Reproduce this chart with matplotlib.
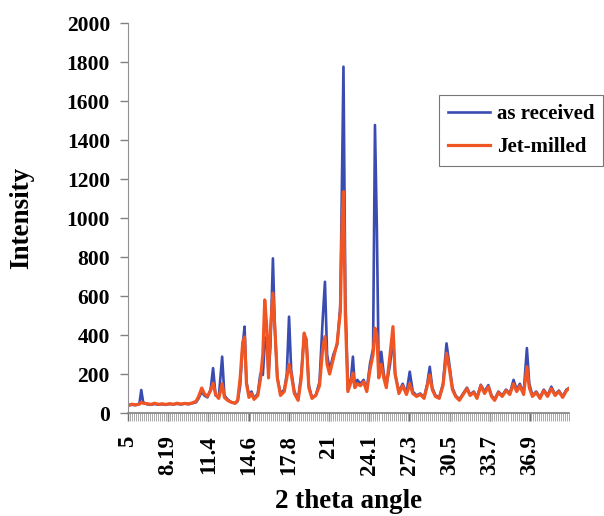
import matplotlib
matplotlib.use("Agg")
import matplotlib.pyplot as plt
from matplotlib.ticker import MultipleLocator

theta = [5.0, 5.3, 5.6, 5.9, 6.05, 6.2, 6.5, 6.8, 7.1, 7.4, 7.7, 8.0, 8.3, 8.6, 8.9, 9.2, 9.5, 9.8,
         10.1, 10.4, 10.6, 10.85, 11.05, 11.3, 11.55, 11.75, 11.95, 12.2, 12.47, 12.65, 12.9, 13.2,
         13.5, 13.7, 13.9, 14.1, 14.25, 14.4, 14.6, 14.8, 15.0, 15.3, 15.5, 15.7, 15.85, 16.0, 16.15,
         16.3, 16.5, 16.65, 16.85, 17.1, 17.4, 17.6, 17.78, 17.95, 18.2, 18.5, 18.75, 18.98, 19.15,
         19.35, 19.6, 19.9, 20.2, 20.45, 20.63, 20.8, 21.0, 21.3, 21.6, 21.85, 22.0, 22.1, 22.25,
         22.45, 22.7, 22.85, 23.0, 23.2, 23.45, 23.7, 23.95, 24.2, 24.45, 24.6, 24.75, 24.9, 25.1,
         25.3, 25.5, 25.8, 26.03, 26.2, 26.5, 26.8, 27.1, 27.36, 27.6, 27.9, 28.2, 28.5, 28.75,
         28.95, 29.15, 29.4, 29.7, 30.0, 30.28, 30.5, 30.75, 31.0, 31.3, 31.6, 31.9, 32.15, 32.45,
         32.7, 33.0, 33.3, 33.6, 33.85, 34.1, 34.4, 34.7, 35.0, 35.3, 35.6, 35.85, 36.1, 36.4,
         36.66, 36.85, 37.1, 37.4, 37.7, 38.0, 38.3, 38.6, 38.9, 39.2, 39.5, 39.8, 40.0]

as_received = [40, 42, 40, 48, 118, 55, 45, 42, 46, 43, 45, 42, 46, 44, 47, 44, 48, 45,
               50, 55, 75, 110, 90, 80, 120, 230, 90, 80, 289, 90, 70, 55,
               50, 60, 140, 350, 443, 160, 90, 110, 75, 100, 200, 195, 350, 390, 200,
               340, 793, 440, 180, 100, 120, 200, 494, 220, 110, 70, 200, 400, 380,
               140, 80, 90, 160, 480, 673, 300, 220, 300, 350, 550, 1300, 1776, 600,
               120, 180, 289, 140, 170, 150, 170, 120, 250, 330, 1477, 950, 200, 314,
               200, 140, 250, 391, 200, 110, 150, 100, 212, 110, 90, 100, 80, 150,
               237, 130, 90, 80, 150, 357, 250, 130, 90, 70, 100, 130, 95, 110,
               80, 145, 110, 143, 90, 70, 110, 90, 120, 100, 170, 120, 150, 100,
               333, 150, 90, 110, 80, 120, 90, 135, 95, 115, 85, 120, 128]

jet_milled = [38, 45, 42, 45, 55, 50, 48, 44, 50, 45, 47, 44, 48, 45, 50, 46, 49, 47,
              52, 60, 85, 128, 100, 85, 115, 153, 95, 75, 150, 80, 65, 55,
              50, 65, 180, 360, 390, 150, 80, 100, 70, 90, 170, 300, 580, 450, 180,
              420, 615, 440, 180, 90, 110, 180, 250, 200, 100, 65, 180, 410, 370,
              130, 75, 90, 140, 330, 392, 250, 200, 280, 360, 520, 1000, 1135, 500,
              110, 160, 205, 130, 150, 140, 160, 110, 220, 300, 435, 400, 180, 250,
              180, 130, 300, 443, 200, 100, 140, 95, 150, 100, 85, 95, 75, 140,
              195, 120, 85, 75, 140, 307, 230, 120, 85, 65, 95, 125, 90, 105,
              75, 140, 100, 135, 85, 65, 105, 85, 115, 95, 150, 110, 140, 95,
              237, 130, 85, 105, 75, 115, 85, 125, 90, 110, 80, 115, 125]

tick_vals = [5, 8.19, 11.38, 14.57, 17.76, 20.95, 24.14, 27.33, 30.52, 33.71, 36.9]
tick_labels = ["5", "8.19", "11.4", "14.6", "17.8", "21", "24.1", "27.3", "30.5", "33.7", "36.9"]
y_ticks = list(range(0, 2001, 200))

plt.rcParams['font.family'] = ['Liberation Serif', 'DejaVu Serif']
plt.rcParams['font.weight'] = 'bold'

fig = plt.figure(figsize=(6.04, 5.16), dpi=100)
ax = fig.add_axes([0.212, 0.1996, 0.730, 0.7558])

ax.plot(theta, as_received, color='#3A4CB0', lw=1.9, label='as received')
ax.plot(theta, jet_milled, color='#F05524', lw=2.3, label='Jet-milled')

ax.set_xlim(5, 40)
ax.set_ylim(0, 2000)
ax.set_yticks(y_ticks)
ax.set_yticklabels([str(v) for v in y_ticks], fontsize=15.5, fontweight='bold')
ax.set_xticks(tick_vals)
ax.set_xticklabels(tick_labels, rotation=90, fontsize=16.5, fontweight='bold')
ax.xaxis.set_minor_locator(MultipleLocator(0.16))
ax.tick_params(axis='x', which='major', length=6, width=1.0, color='#707070', pad=10)
ax.tick_params(axis='x', which='minor', length=6, width=0.6, color='#9a9a9a')
ax.tick_params(axis='y', which='major', length=6, width=1.0, color='#808080', pad=7)

for s in ['top', 'right']:
    ax.spines[s].set_visible(False)
ax.spines['left'].set_color('#909090')
ax.spines['bottom'].set_color('#808080')
ax.spines['bottom'].set_linewidth(1.2)

ax.set_ylabel('Intensity', fontsize=19.5, fontweight='bold')
ax.yaxis.set_label_coords(-0.214, 0.5)
ax.set_xlabel('2 theta angle', fontsize=19.5, fontweight='bold')
ax.xaxis.set_label_coords(0.5, -0.194)

leg = ax.legend(loc='upper right', bbox_to_anchor=(1.077, 0.815), fontsize=15, frameon=True,
                fancybox=False, edgecolor='#555555', handlelength=2.0, borderpad=0.42,
                labelspacing=0.62, handletextpad=0.33, borderaxespad=0)
leg.get_frame().set_linewidth(0.8)
for t in leg.get_texts():
    t.set_fontweight('bold')

fig.savefig('out.png', dpi=100, facecolor='white')
